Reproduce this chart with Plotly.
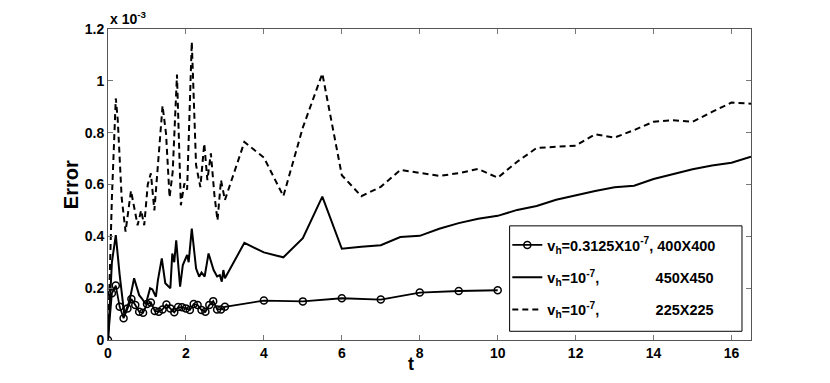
import plotly.graph_objects as go

# error values are in units of 1e-3
t_400 = [0, 0.1, 0.2, 0.3, 0.4, 0.5, 0.6, 0.7, 0.8, 0.9, 1.0, 1.1, 1.2, 1.3, 1.4, 1.5,
         1.6, 1.7, 1.8, 1.9, 2.0, 2.1, 2.2, 2.3, 2.4, 2.5, 2.6, 2.7, 2.8, 2.9, 3.0,
         4, 5, 6, 7, 8, 9, 10]
err_400 = [0, 0.18, 0.21, 0.128, 0.084, 0.122, 0.158, 0.135, 0.109, 0.105, 0.139,
           0.145, 0.112, 0.109, 0.118, 0.137, 0.122, 0.107, 0.127, 0.126, 0.122,
           0.116, 0.139, 0.135, 0.116, 0.109, 0.135, 0.150, 0.118, 0.118, 0.128,
           0.152, 0.149, 0.161, 0.156, 0.183, 0.189, 0.192]

t_450 = [0, 0.1, 0.2, 0.3, 0.42, 0.55, 0.67, 0.8, 0.87, 0.97, 1.08, 1.14, 1.23, 1.28,
         1.38, 1.47, 1.6, 1.65, 1.7, 1.75, 1.85, 1.92, 2.03, 2.07, 2.15, 2.26, 2.34,
         2.4, 2.48, 2.58, 2.71, 2.8, 2.87, 2.92, 2.96, 3.0,
         3.5, 4.0, 4.5, 5.0, 5.5, 6.0, 6.5, 7.0, 7.5, 8.0, 8.5, 9.0, 9.5, 10.0, 10.5,
         11.0, 11.5, 12.0, 12.5, 13.0, 13.5, 14.0, 14.5, 15.0, 15.5, 16.0, 16.5]
err_450 = [0, 0.3, 0.405, 0.25, 0.096, 0.15, 0.238, 0.173, 0.16, 0.138, 0.2, 0.195,
           0.167, 0.23, 0.315, 0.219, 0.2, 0.334, 0.3, 0.385, 0.206, 0.289, 0.328,
           0.3, 0.43, 0.276, 0.244, 0.26, 0.245, 0.334, 0.27, 0.245, 0.25, 0.225,
           0.27, 0.238,
           0.375, 0.338, 0.319, 0.393, 0.553, 0.352, 0.36, 0.366, 0.397, 0.402,
           0.429, 0.451, 0.468, 0.479, 0.502, 0.517, 0.541, 0.559, 0.575, 0.589,
           0.595, 0.621, 0.641, 0.659, 0.673, 0.684, 0.707]

t_225 = [0, 0.1, 0.2, 0.25, 0.35, 0.45, 0.59, 0.76, 0.85, 0.93, 1.02, 1.1, 1.19,
         1.4, 1.49, 1.58, 1.66, 1.77, 1.87, 1.96, 2.03, 2.15, 2.26, 2.37, 2.47,
         2.55, 2.64, 2.73, 2.81, 2.9, 3.0,
         3.5, 4.0, 4.5, 5.0, 5.5, 6.0, 6.5, 7.0, 7.5, 8.0, 8.5, 9.0, 9.5, 10.0,
         10.5, 11.0, 11.5, 12.0, 12.5, 13.0, 13.5, 14.0, 14.5, 15.0, 15.5, 16.0, 16.5]
err_225 = [0, 0.55, 0.932, 0.85, 0.55, 0.418, 0.576, 0.443, 0.5, 0.443, 0.6, 0.643,
           0.5, 0.904, 0.795, 0.55, 0.649, 1.024, 0.52, 0.604, 0.58, 1.15, 0.675,
           0.59, 0.758, 0.617, 0.72, 0.56, 0.462, 0.617, 0.54,
           0.764, 0.704, 0.555, 0.82, 1.028, 0.636, 0.555, 0.591, 0.656, 0.645,
           0.633, 0.644, 0.66, 0.626, 0.688, 0.741, 0.745, 0.75, 0.794, 0.781,
           0.81, 0.842, 0.848, 0.842, 0.88, 0.916, 0.912]

x_ticks = [0, 2, 4, 6, 8, 10, 12, 14, 16]
y_ticks = [0, 0.2, 0.4, 0.6, 0.8, 1.0, 1.2]

NB = "\u00a0"
name_400 = "v<sub>h</sub>=0.3125X10<sup>-7</sup>, 400X400"
name_450 = "v<sub>h</sub>=10<sup>-7</sup>," + NB * 14 + "450X450"
name_225 = "v<sub>h</sub>=10<sup>-7</sup>," + NB * 14 + "225X225"

FONT = "Liberation Sans, Arial, Helvetica, sans-serif"

fig = go.Figure()
fig.add_trace(go.Scatter(x=t_400, y=err_400, mode="lines+markers", name=name_400,
                         legendgroup="a",
                         line=dict(color="black", width=1.8),
                         marker=dict(symbol="circle-open", size=7, color="black",
                                     line=dict(width=1.5))))
fig.add_trace(go.Scatter(x=t_450, y=err_450, mode="lines", name=name_450,
                         legendgroup="b",
                         line=dict(color="black", width=2)))
fig.add_trace(go.Scatter(x=t_225, y=err_225, mode="lines", name=name_225,
                         legendgroup="c",
                         line=dict(color="black", width=2, dash="6px,4px")))

axis_common = dict(showgrid=False, zeroline=False, showline=True, mirror="ticks",
                   linecolor="#555", linewidth=1, ticks="inside", ticklen=5,
                   tickcolor="#777",
                   tickfont=dict(family=FONT, size=14, color="black", weight="bold"))

fig.update_xaxes(range=[0, 16.5], tickvals=x_ticks, **axis_common)
fig.update_yaxes(range=[0, 1.2], tickvals=y_ticks, **axis_common)

fig.update_layout(
    width=830, height=383,
    margin=dict(l=100, r=87, t=21, b=51),
    plot_bgcolor="white", paper_bgcolor="white",
    font=dict(family=FONT, color="black"),
    showlegend=True,
    legend=dict(x=0.621, y=0.357, xanchor="left", yanchor="top",
                bgcolor="rgba(0,0,0,0)", borderwidth=0,
                traceorder="grouped", tracegroupgap=10.5,
                font=dict(family=FONT, size=14.5, color="black", weight="bold")),
    shapes=[dict(type="rect", xref="paper", yref="paper",
                 x0=0.6246, x1=0.986, y0=0.028, y1=0.367,
                 line=dict(color="black", width=1), fillcolor="white",
                 layer="above")],
    annotations=[
        dict(text="Error", textangle=-90, x=-0.058, y=0.5, xref="paper", yref="paper",
             xanchor="center", yanchor="middle",
             showarrow=False, font=dict(family=FONT, size=20, weight="bold")),
        dict(text="t", x=0.4717, y=-0.077, xref="paper", yref="paper",
             xanchor="center", yanchor="middle",
             showarrow=False, font=dict(family=FONT, size=18, weight="bold")),
        dict(text="x 10<sup>-3</sup>", x=0, y=1, xref="paper", yref="paper",
             xanchor="left", yanchor="bottom", yshift=0, showarrow=False,
             font=dict(family=FONT, size=14, weight="bold")),
    ],
)

fig.write_html("out.html")
